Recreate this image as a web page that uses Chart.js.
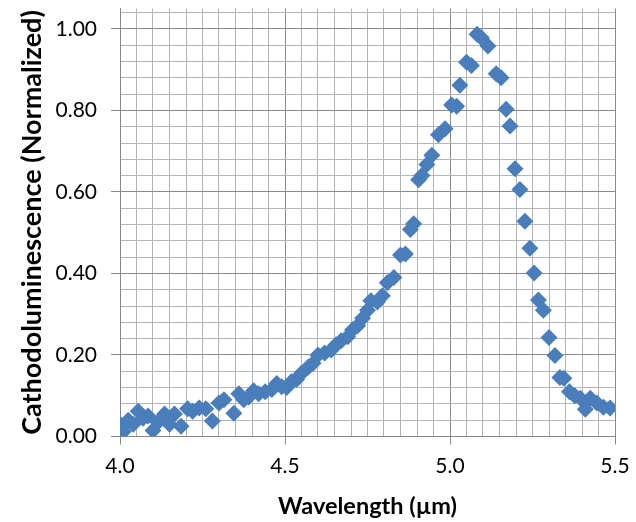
<!DOCTYPE html>
<html>
<head>
<meta charset="utf-8">
<script src="https://cdn.jsdelivr.net/npm/chart.js@4/dist/chart.umd.min.js"></script>
<style>
  html, body { margin: 0; padding: 0; background: #ffffff; }
  #wrap { width: 636px; height: 522px; }
</style>
</head>
<body>
<div id="wrap"><canvas id="cl" width="636" height="522"></canvas></div>
<script>
// Measured cathodoluminescence spectrum (normalized intensity vs wavelength)
const wavelength = [
  4.000, 4.010, 4.025, 4.040, 4.055, 4.070, 4.085, 4.100, 4.115, 4.135,
  4.150, 4.165, 4.185, 4.205, 4.220, 4.240, 4.260, 4.280, 4.300, 4.315,
  4.345, 4.360, 4.375, 4.390, 4.405, 4.420, 4.440, 4.460, 4.475, 4.490,
  4.505, 4.520, 4.535, 4.550, 4.570, 4.585, 4.600, 4.620, 4.640, 4.655,
  4.670, 4.690, 4.705, 4.720, 4.735, 4.750, 4.760, 4.780, 4.795, 4.810,
  4.830, 4.850, 4.865, 4.880, 4.890, 4.905, 4.915, 4.930, 4.945, 4.965,
  4.985, 5.005, 5.020, 5.030, 5.050, 5.065, 5.082, 5.095, 5.115, 5.140,
  5.155, 5.170, 5.182, 5.197, 5.212, 5.227, 5.242, 5.255, 5.268, 5.283,
  5.300, 5.318, 5.333, 5.345, 5.362, 5.378, 5.395, 5.410, 5.425, 5.445,
  5.465, 5.485
];
const intensity = [
  0.030, 0.012, 0.040, 0.030, 0.062, 0.045, 0.050, 0.015, 0.035, 0.055,
  0.030, 0.055, 0.025, 0.068, 0.062, 0.070, 0.068, 0.038, 0.082, 0.090,
  0.057, 0.105, 0.090, 0.097, 0.112, 0.105, 0.110, 0.115, 0.130, 0.122,
  0.120, 0.135, 0.140, 0.155, 0.170, 0.180, 0.200, 0.205, 0.212, 0.225,
  0.235, 0.245, 0.262, 0.272, 0.290, 0.310, 0.333, 0.330, 0.345, 0.377,
  0.390, 0.445, 0.448, 0.508, 0.522, 0.630, 0.640, 0.667, 0.690, 0.740,
  0.755, 0.813, 0.810, 0.862, 0.918, 0.910, 0.987, 0.978, 0.958, 0.890,
  0.880, 0.803, 0.762, 0.657, 0.606, 0.528, 0.462, 0.401, 0.335, 0.310,
  0.243, 0.199, 0.145, 0.143, 0.110, 0.100, 0.094, 0.067, 0.094, 0.082,
  0.072, 0.070
];

// Axis ranges and tick spacing
const xMajorTicks = [4.0, 4.5, 5.0, 5.5];
const yMajorTicks = [0.00, 0.20, 0.40, 0.60, 0.80, 1.00];
const xMinorStep = 0.05;
const yMinorStep = 0.04;
const xRange = [4.0, 5.5];
const yRange = [0, 1.05];

const points = wavelength.map((w, i) => ({ x: w, y: intensity[i] }));

const near = (v, list) => list.some(m => Math.abs(m - v) < 1e-6);
const gridValues = (lo, hi, step) => {
  const out = [];
  const n = Math.floor((hi - lo) / step + 1e-6);
  for (let i = 0; i <= n; i++) out.push(+(lo + i * step).toFixed(4));
  return out;
};

const FONT = "Lato, 'Liberation Sans', Arial, sans-serif";
const MINOR = '#b4b4b4';
const MAJOR = '#8a8a8a';

new Chart(document.getElementById('cl'), {
  type: 'scatter',
  data: {
    datasets: [{
      data: points,
      pointStyle: 'rectRot',
      pointRadius: 8.5,
      pointHoverRadius: 8.5,
      backgroundColor: '#4a7ebb',
      borderColor: '#4a7ebb',
      borderWidth: 0
    }]
  },
  options: {
    responsive: false,
    animation: false,
    events: [],
    layout: { padding: { left: 0, right: 21, top: 6, bottom: 0 } },
    plugins: { legend: { display: false }, tooltip: { enabled: false } },
    scales: {
      x: {
        type: 'linear',
        min: xRange[0],
        max: xRange[1],
        afterBuildTicks: s => { s.ticks = gridValues(xRange[0], xRange[1], xMinorStep).map(v => ({ value: v })); },
        afterFit: s => { s.height = 85.5; s.paddingLeft = 0; s.paddingRight = 0; },
        ticks: {
          autoSkip: false,
          maxRotation: 0,
          padding: 9,
          color: '#000000',
          font: { family: FONT, size: 21 },
          callback: v => near(v, xMajorTicks) ? v.toFixed(1) : ''
        },
        grid: {
          color: c => near(c.tick.value, xMajorTicks) ? MAJOR : MINOR,
          tickColor: c => near(c.tick.value, xMajorTicks) ? MAJOR : 'rgba(0,0,0,0)',
          tickLength: 8,
          lineWidth: 1
        },
        border: { color: '#868686', width: 1 },
        title: {
          display: true,
          text: 'Wavelength (µm)',
          color: '#000000',
          font: { family: FONT, size: 23.5, weight: 'bold' },
          padding: { top: 0, bottom: 1 }
        }
      },
      y: {
        type: 'linear',
        min: yRange[0],
        max: yRange[1],
        afterBuildTicks: s => { s.ticks = gridValues(yRange[0], 1.04, yMinorStep).map(v => ({ value: v })); },
        afterFit: s => { s.width = 120; s.paddingTop = 0; s.paddingBottom = 0; },
        ticks: {
          autoSkip: false,
          padding: 14,
          color: '#000000',
          font: { family: FONT, size: 21 },
          callback: v => near(v, yMajorTicks) ? v.toFixed(2) : ''
        },
        grid: {
          color: c => near(c.tick.value, yMajorTicks) ? MAJOR : MINOR,
          tickColor: c => near(c.tick.value, yMajorTicks) ? MAJOR : 'rgba(0,0,0,0)',
          tickLength: 9,
          lineWidth: 1
        },
        border: { color: '#868686', width: 1 },
        title: {
          display: true,
          text: 'Cathodoluminescence (Normalized)',
          color: '#000000',
          font: { family: FONT, size: 27, weight: 'bold' },
          padding: { top: 16, bottom: 0 }
        }
      }
    }
  }
});
</script>
</body>
</html>
